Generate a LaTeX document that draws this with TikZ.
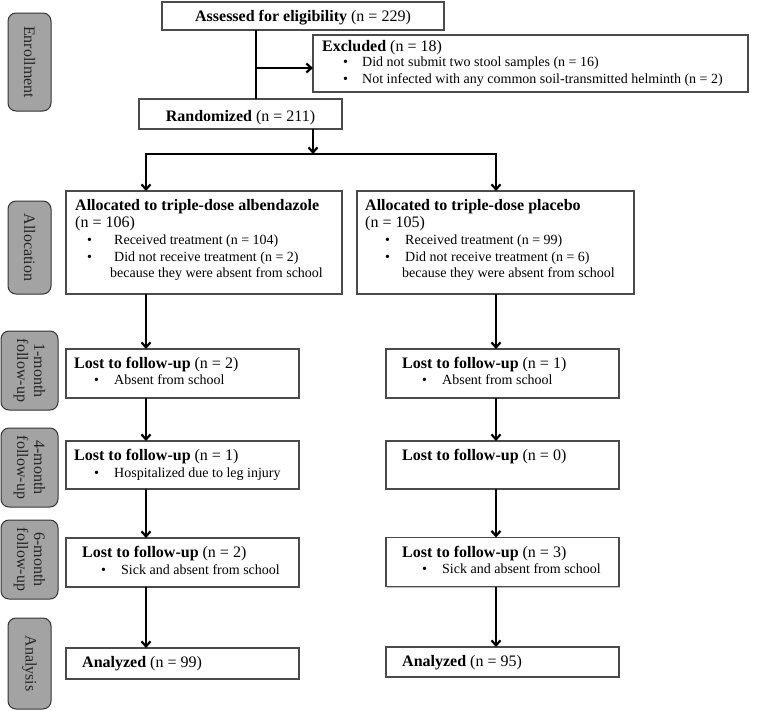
\documentclass[tikz,border=0pt]{standalone}
\usepackage{fontspec}
\setmainfont{Liberation Serif}
\usetikzlibrary{arrows.meta,shadows}
\definecolor{lblfill}{HTML}{A3A3A3}
\definecolor{boxline}{HTML}{4A4A4A}
\begin{document}
\begin{tikzpicture}[x=1pt,y=-1pt,
  box/.style={draw=boxline,line width=1.1pt,fill=white,rectangle,inner sep=0pt,outer sep=0pt,
    drop shadow={shadow xshift=1.2pt,shadow yshift=-1.2pt,opacity=0.25,fill=black}},
  phase/.style={draw=black!80,line width=1pt,fill=lblfill,rounded corners=8pt,inner sep=0pt,outer sep=0pt,
    rotate=-90,align=center,font=\fontsize{16}{17}\selectfont,text=black!85},
  hd/.style={anchor=base west,inner sep=0pt,font=\fontsize{16}{17}\selectfont},
  bt/.style={anchor=base west,inner sep=0pt,font=\fontsize{14}{17}\selectfont},
  conn/.style={line width=2.2pt,line join=miter},
  arr/.style={conn,-{Straight Barb[length=5pt,width=9pt]}},
]
\useasboundingbox (0,0) rectangle (763,710);

% phase labels
\node[phase,minimum width=98pt,minimum height=43pt] (ph1) at (29.5,62) {Enrollment};
\node[phase,minimum width=93pt,minimum height=43pt] (ph2) at (29.5,247.5) {Allocation};
\node[phase,minimum width=79pt,minimum height=57pt] (ph3) at (29.5,370.5) {1-month\\follow-up};
\node[phase,minimum width=79pt,minimum height=57pt] (ph4) at (29.5,467.5) {4-month\\follow-up};
\node[phase,minimum width=79pt,minimum height=57pt] (ph5) at (29.5,559.5) {6-month\\follow-up};
\node[phase,minimum width=91pt,minimum height=43pt] (ph6) at (29.5,663.5) {Analysis};

% boxes
\node[box,minimum width=282pt,minimum height=28pt] (assessed) at (303,16) {};
\node[box,minimum width=435pt,minimum height=57pt] (excluded) at (530.5,63.5) {};
\node[box,minimum width=203pt,minimum height=30pt] (randomized) at (240.5,114) {};
\node[box,minimum width=276pt,minimum height=103pt] (allocL) at (204,242.5) {};
\node[box,minimum width=277pt,minimum height=103pt] (allocR) at (495.5,242.5) {};
\node[box,minimum width=233pt,minimum height=49pt] (m1L) at (182.5,373.5) {};
\node[box,minimum width=233pt,minimum height=48pt] (m4L) at (182.5,465) {};
\node[box,minimum width=233pt,minimum height=49pt] (m6L) at (182.5,562.5) {};
\node[box,minimum width=233pt,minimum height=31pt] (anL) at (182.5,663.5) {};
\node[box,minimum width=233pt,minimum height=49pt] (m1R) at (502.5,373.5) {};
\node[box,minimum width=233pt,minimum height=48pt] (m4R) at (502.5,465) {};
\node[box,minimum width=233pt,minimum height=49pt] (m6R) at (502.5,562) {};
\node[box,minimum width=233pt,minimum height=30pt] (anR) at (502.5,662) {};

% texts
\node[inner sep=0pt,anchor=base,font=\fontsize{16}{17}\selectfont] (tas) at (303,21) {\textbf{Assessed for eligibility} (n = 229)};
\node[hd] (tex) at (322,51) {\textbf{Excluded} (n = 18)};
\node[bt] (tex1b) at (343,66) {•};
\node[bt] (tex1) at (362,66) {Did not submit two stool samples (n = 16)};
\node[bt] (tex2b) at (343,83) {•};
\node[bt] (tex2) at (362,83) {Not infected with any common soil-transmitted helminth (n = 2)};
\node[inner sep=0pt,anchor=base,font=\fontsize{16}{17}\selectfont] (tra) at (240.5,121) {\textbf{Randomized} (n = 211)};

\node[hd] (tal1) at (75,210) {\textbf{Allocated to triple-dose albendazole}};
\node[hd] (tal2) at (75,227) {(n = 106)};
\node[bt] (tal3b) at (87,244) {•};
\node[bt] (tal3) at (114,244) {Received treatment (n = 104)};
\node[bt] (tal4b) at (87,261) {•};
\node[bt] (tal4) at (114,261) {Did not receive treatment (n = 2)};
\node[bt] (tal5) at (110,277) {because they were absent from school};

\node[hd] (tar1) at (365,210) {\textbf{Allocated to triple-dose placebo}};
\node[hd] (tar2) at (365,227) {(n = 105)};
\node[bt] (tar3b) at (385,244) {•};
\node[bt] (tar3) at (405,244) {Received treatment (n = 99)};
\node[bt] (tar4b) at (385,261) {•};
\node[bt] (tar4) at (405,261) {Did not receive treatment (n = 6)};
\node[bt] (tar5) at (402,277) {because they were absent from school};

\node[hd] (t1L) at (74,368) {\textbf{Lost to follow-up} (n = 2)};
\node[bt] (t1Lb) at (94,384) {•};
\node[bt] (t1Lt) at (114,384) {Absent from school};
\node[hd] (t4L) at (74,460) {\textbf{Lost to follow-up} (n = 1)};
\node[bt] (t4Lb) at (94,477) {•};
\node[bt] (t4Lt) at (114,477) {Hospitalized due to leg injury};
\node[hd] (t6L) at (82,557) {\textbf{Lost to follow-up} (n = 2)};
\node[bt] (t6Lb) at (101,574) {•};
\node[bt] (t6Lt) at (121,574) {Sick and absent from school};
\node[hd] (tanL) at (82,667) {\textbf{Analyzed} (n = 99)};

\node[hd] (t1R) at (402,368) {\textbf{Lost to follow-up} (n = 1)};
\node[bt] (t1Rb) at (422,384) {•};
\node[bt] (t1Rt) at (442,384) {Absent from school};
\node[hd] (t4R) at (402,460) {\textbf{Lost to follow-up} (n = 0)};
\node[hd] (t6R) at (402,557) {\textbf{Lost to follow-up} (n = 3)};
\node[bt] (t6Rb) at (422,573) {•};
\node[bt] (t6Rt) at (442,573) {Sick and absent from school};
\node[hd] (tanR) at (402,666) {\textbf{Analyzed} (n = 95)};

% connectors
\coordinate (tr) at (256,0);
\coordinate (exa) at (256,68);
\draw[conn] (assessed.south -| tr) -- (randomized.north -| tr);
\draw[arr] (exa) -- (exa -| excluded.west);
\coordinate (rx) at (313,0);
\coordinate (split) at (313,154);
\coordinate (sl) at (146,154);
\coordinate (sr) at (496,154);
\draw[arr] (randomized.south -| rx) -- (split);
\draw[conn,{Straight Barb[length=5pt,width=9pt]}-{Straight Barb[length=5pt,width=9pt]}]
  (sl |- allocL.north) -- (sl) -- (sr) -- (sr |- allocR.north);
\coordinate (cl) at (146,0);
\coordinate (cr) at (496,0);
\draw[arr] (allocL.south -| cl) -- (m1L.north -| cl);
\draw[arr] (m1L.south -| cl) -- (m4L.north -| cl);
\draw[arr] (m4L.south -| cl) -- (m6L.north -| cl);
\draw[arr] (m6L.south -| cl) -- (anL.north -| cl);
\draw[arr] (allocR.south -| cr) -- (m1R.north -| cr);
\draw[arr] (m1R.south -| cr) -- (m4R.north -| cr);
\draw[arr] (m4R.south -| cr) -- (m6R.north -| cr);
\draw[arr] (m6R.south -| cr) -- (anR.north -| cr);
\end{tikzpicture}
\end{document}
